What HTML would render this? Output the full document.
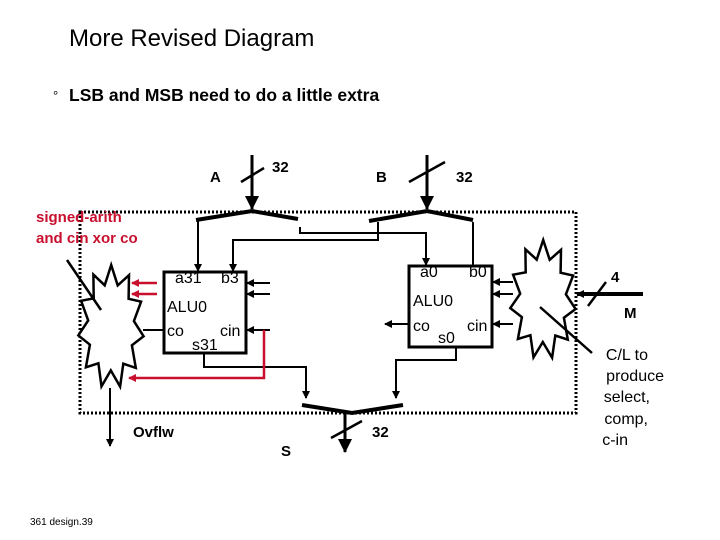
<!DOCTYPE html>
<html><head><meta charset="utf-8"><style>
html,body{margin:0;padding:0;background:#fff;}
svg{display:block;font-family:"Liberation Sans",Arial,sans-serif;}
</style></head><body>
<svg id="s" width="720" height="540" viewBox="0 0 720 540" xmlns="http://www.w3.org/2000/svg">
<defs>
<marker id="ar" markerWidth="8" markerHeight="8" refX="7" refY="4" orient="auto" markerUnits="userSpaceOnUse"><path d="M0,0 L8,4 L0,8 z" fill="#000"/></marker>
<marker id="arB" markerWidth="14" markerHeight="14" refX="13" refY="7" orient="auto" markerUnits="userSpaceOnUse"><path d="M0,0 L14,7 L0,14 z" fill="#000"/></marker>
<marker id="arR" markerWidth="8" markerHeight="8" refX="7" refY="4" orient="auto" markerUnits="userSpaceOnUse"><path d="M0,0 L8,4 L0,8 z" fill="#c8102e"/></marker>
</defs>
<text x="69" y="46" font-size="24">More Revised Diagram</text>
<text x="53" y="100" font-size="13">°</text>
<text x="69" y="101" font-size="17.5" font-weight="bold">LSB and MSB need to do a little extra</text>
<text x="30" y="525" font-size="10">361 design.39</text>

<rect x="80" y="212" width="496" height="201" fill="none" stroke="#000" stroke-width="3" stroke-dasharray="2,2"/>

<g stroke="#000" fill="none">
<line x1="252" y1="155" x2="252" y2="209" stroke-width="3" marker-end="url(#arB)"/>
<line x1="241" y1="182" x2="264" y2="168" stroke-width="2.5"/>
<polyline points="196,220 252,211 298,219" stroke-width="4"/>
<line x1="427" y1="155" x2="427" y2="209" stroke-width="3" marker-end="url(#arB)"/>
<line x1="409" y1="182" x2="445" y2="162" stroke-width="2.5"/>
<polyline points="369,221 427,211 473,220" stroke-width="4"/>
<polyline points="302,405 352,413 403,405" stroke-width="4"/>
<line x1="345" y1="413" x2="345" y2="452" stroke-width="3" marker-end="url(#arB)"/>
<line x1="331" y1="438" x2="362" y2="421" stroke-width="2.5"/>

<polyline points="198,220 198,271" stroke-width="2" marker-end="url(#ar)"/>
<polyline points="300,227 300,233 426,233 426,265" stroke-width="2" marker-end="url(#ar)"/>
<polyline points="378,222 378,240 233,240 233,271" stroke-width="2" marker-end="url(#ar)"/>
<polyline points="473,222 473,265" stroke-width="2"/>
<line x1="270" y1="283" x2="247" y2="283" stroke-width="2" marker-end="url(#ar)"/>
<line x1="270" y1="294" x2="247" y2="294" stroke-width="2" marker-end="url(#ar)"/>
<line x1="270" y1="330" x2="247" y2="330" stroke-width="2" marker-end="url(#ar)"/>
<line x1="163" y1="330" x2="143" y2="330" stroke-width="2"/>
<polyline points="204,353 204,367 306,367 306,398" stroke-width="2" marker-end="url(#ar)"/>
<polyline points="456,347 456,360 396,360 396,398" stroke-width="2" marker-end="url(#ar)"/>
<line x1="408" y1="324" x2="385" y2="324" stroke-width="2" marker-end="url(#ar)"/>
<line x1="513" y1="282" x2="493" y2="282" stroke-width="2" marker-end="url(#ar)"/>
<line x1="513" y1="294" x2="493" y2="294" stroke-width="2" marker-end="url(#ar)"/>
<line x1="513" y1="324" x2="493" y2="324" stroke-width="2" marker-end="url(#ar)"/>
<line x1="110" y1="388" x2="110" y2="446" stroke-width="2" marker-end="url(#ar)"/>
<line x1="643" y1="294" x2="577" y2="294" stroke-width="4" marker-end="url(#ar)"/>
<line x1="588" y1="306" x2="606" y2="282" stroke-width="2.5"/>

<rect x="164" y="272" width="82" height="81" stroke-width="3" fill="#fff"/>
<rect x="409" y="266" width="83" height="81" stroke-width="3" fill="#fff"/>
</g>

<g stroke="#c8102e" stroke-width="2.5" fill="none">
<line x1="157" y1="283" x2="132" y2="283" marker-end="url(#arR)"/>
<line x1="157" y1="294" x2="132" y2="294" marker-end="url(#arR)"/>
<polyline points="264,330 264,378 129,378" marker-end="url(#arR)"/>
</g>

<polygon id="st1" fill="#fff" stroke="#000" stroke-width="2.5"/>
<polygon id="st2" fill="#fff" stroke="#000" stroke-width="2.5"/>
<line x1="67" y1="260" x2="101" y2="310" stroke="#000" stroke-width="2.5"/>
<line x1="540" y1="307" x2="592" y2="353" stroke="#000" stroke-width="2.5"/>

<g font-size="16">
<text x="175" y="283">a31</text><text x="221" y="283">b3</text>
<text x="167" y="312">ALU0</text>
<text x="167" y="336">co</text><text x="220" y="336">cin</text>
<text x="192" y="350">s31</text>
<text x="420" y="277">a0</text><text x="469" y="277">b0</text>
<text x="413" y="306">ALU0</text>
<text x="413" y="331">co</text><text x="467" y="331">cin</text>
<text x="438" y="343">s0</text>
</g>
<g font-size="15" font-weight="bold">
<text x="210" y="182">A</text><text x="272" y="172">32</text>
<text x="376" y="182">B</text><text x="456" y="182">32</text>
<text x="372" y="437">32</text><text x="281" y="456">S</text>
<text x="133" y="437">Ovflw</text>
<text x="611" y="282">4</text><text x="624" y="318">M</text>
</g>
<g font-size="15" fill="#c8102e" font-weight="bold">
<text x="36" y="222">signed-arith</text>
<text x="36" y="243">and cin xor co</text>
</g>
<g font-size="16" text-anchor="end">
<text x="648" y="360">C/L to</text>
<text x="664" y="381">produce</text>
<text x="650" y="402">select,</text>
<text x="648" y="424">comp,</text>
<text x="628" y="445">c-in</text>
</g>
</svg>
<script>
function star(id,cx,cy,rx,ry,n){var p=[];for(var i=0;i<2*n;i++){var a=Math.PI*i/n+0.15;var r=(i%2==0)?1:0.7;p.push((cx+rx*r*Math.cos(a)).toFixed(1)+","+(cy+ry*r*Math.sin(a)).toFixed(1));}document.getElementById(id).setAttribute("points",p.join(" "));}
star("st1",111,327,33,62,11);
star("st2",543,300,33,60,11);
</script>
</body></html>
